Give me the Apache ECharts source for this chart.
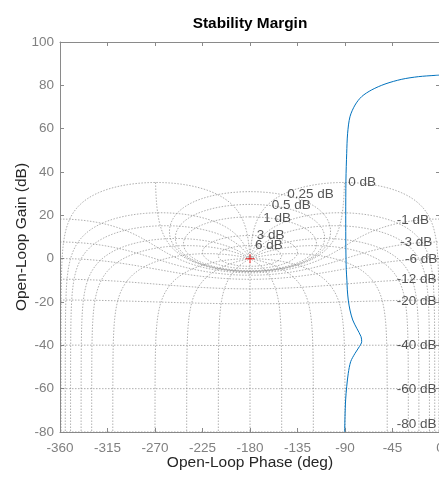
<!DOCTYPE html>
<html>
<head>
<meta charset="utf-8">
<script src="https://cdn.jsdelivr.net/npm/echarts@6/dist/echarts.min.js"></script>
<style>
  html, body { margin: 0; padding: 0; overflow: hidden; background: #fff; }
  #chart { width: 500px; height: 477px; }
</style>
</head>
<body>
<div id="chart"></div>
<script>
// Open-loop response in the Nichols plane (phase in deg, gain in dB)
const loopPhase = [-0.8, -4.6, -20.5, -36.2, -52.1, -64.7, -74.2, -80.5, -85.3, -87.5, -88.4, -89.1, -89.3, -89.2, -88.8, -88.2, -87.8, -86.9, -85.3, -82.7, -78.9, -74.8, -74.2, -76.4, -80.5, -84.6, -86.9, -88.4, -89.4, -90.0, -90.3];
const loopGain  = [84.7, 84.6, 84.0, 82.8, 80.6, 77.9, 74.8, 70.9, 65.5, 57.9, 48.6, 36.3, 20.0, 5.0, -5.0, -10.0, -14.4, -19.1, -23.7, -28.3, -32.1, -36.0, -38.3, -40.6, -43.7, -47.5, -52.9, -59.1, -65.2, -72.9, -80.0];

// Closed-loop gain contours (dB) and where their labels sit
const gainLevels     = [6, 3, 1, 0.5, 0.25, 0, -1, -3, -6, -12, -20, -40, -60, -80];
const gainLabelPhase = [-175.3, -173.7, -167.5, -159.5, -144.7, -86.9, -40.9, -37.8, -33.1, -40.9, -40.9, -40.9, -40.9, -40.9];
const gainLabelGain  = [6.0, 10.6, 18.6, 24.8, 29.7, 35.1, 17.9, 7.6, -0.1, -9.4, -19.8, -40.1, -60.1, -76.4];

// Closed-loop phase contours (deg)
const phaseLevels = [-1, -5, -10, -20, -30, -50, -90, -120, -150, -180, -210, -240, -270, -310, -330, -340, -350, -355, -359];

// Critical point -1 in the Nichols plane
const criticalPoint = [-180, 0];

// Axis ranges and tick steps
const phaseRange = [-360, 0], phaseStep = 45;
const gainRange = [-80, 100], gainStep = 20;

const D2R = Math.PI / 180;

// Open-loop L = T / (1 - T) for closed-loop T = m e^{j theta}
function openLoop(m, thetaDeg, wrap) {
  const t = thetaDeg * D2R;
  const re = 1 - m * Math.cos(t);
  const im = -m * Math.sin(t);
  const mag = m / Math.hypot(re, im);
  let ph;
  if (wrap) {
    const tr = m * Math.cos(t), ti = m * Math.sin(t);
    const den = re * re + im * im;
    const lr = (tr * re + ti * im) / den;
    const li = (ti * re - tr * im) / den;
    ph = Math.atan2(li, lr) / D2R;
    if (ph > 0) ph -= 360;
  } else {
    ph = thetaDeg - Math.atan2(im, re) / D2R;
  }
  return [ph, 20 * Math.log10(mag)];
}

function gainContour(db) {
  const m = Math.pow(10, db / 20);
  const pts = [];
  const lo = db === 0 ? -359 : -360, hi = db === 0 ? -1 : 0;
  for (let th = lo; th <= hi + 1e-9; th += 0.25) {
    pts.push(openLoop(m, th, m > 1));
  }
  return pts;
}

function phaseContour(theta) {
  const pts = [];
  let d = -110;
  while (d <= 80) {
    pts.push(openLoop(Math.pow(10, d / 20), theta, false));
    d += Math.abs(d) < 3 ? 0.004 : 0.1;
  }
  return pts;
}

const gridStyle = { color: 'rgba(128,128,128,0.8)', width: 0.8, type: [1.5, 1.5] };
const font = 'Liberation Sans, Arial, Helvetica, sans-serif';

const series = [];
gainLevels.forEach(g => series.push({
  type: 'line', data: gainContour(g), showSymbol: false, silent: true,
  lineStyle: gridStyle, z: 1, animation: false
}));
phaseLevels.forEach(p => series.push({
  type: 'line', data: phaseContour(p), showSymbol: false, silent: true,
  lineStyle: gridStyle, z: 1, animation: false
}));

// contour labels
series.push({
  type: 'scatter', symbolSize: 0, silent: true, animation: false, z: 3,
  data: gainLevels.map((g, i) => ({ value: [gainLabelPhase[i], gainLabelGain[i]], name: g + ' dB' })),
  label: {
    show: true, position: 'right', distance: 0, formatter: p => p.name,
    color: '#2b2b2b', fontSize: 13.5, fontFamily: font, verticalAlign: 'middle'
  }
});

// open-loop curve
series.push({
  type: 'line', data: loopPhase.map((p, i) => [p, loopGain[i]]),
  showSymbol: false, smooth: 0.3, silent: true, animation: false, z: 4,
  lineStyle: { color: '#0072BD', width: 1 }
});

// critical point marker
series.push({
  type: 'scatter', data: [criticalPoint], silent: true, animation: false, z: 5,
  symbol: 'path://M4,0h1v9h-1zM0,4h9v1h-9z', symbolSize: 9,
  itemStyle: { color: '#ff0000' }
});

const axisColor = '#8a8a8a';
const baseX = {
  type: 'value', min: phaseRange[0], max: phaseRange[1], interval: phaseStep,
  axisLine: { show: true, onZero: false, lineStyle: { color: axisColor, width: 1 } },
  axisTick: { show: true, inside: true, length: 4, lineStyle: { color: axisColor } },
  splitLine: { show: false }
};
const baseY = {
  type: 'value', min: gainRange[0], max: gainRange[1], interval: gainStep,
  axisLine: { show: true, onZero: false, lineStyle: { color: axisColor, width: 1 } },
  axisTick: { show: true, inside: true, length: 4, lineStyle: { color: axisColor } },
  splitLine: { show: false }
};

const chart = echarts.init(document.getElementById('chart'), null, { renderer: 'canvas' });
chart.setOption({
  animation: false,
  backgroundColor: '#fff',
  title: {
    text: 'Stability Margin', left: 'center', top: 16, padding: 0,
    textStyle: { fontFamily: font, fontSize: 15.4, fontWeight: 'bold', color: '#000' }
  },
  grid: { left: 60, top: 42, width: 380, height: 390, containLabel: false, outerBoundsMode: 'none' },
  xAxis: [
    Object.assign({}, baseX, {
      position: 'bottom',
      axisLabel: { color: '#808080', fontSize: 13.5, fontFamily: font, margin: 9 },
      name: 'Open-Loop Phase (deg)', nameLocation: 'middle', nameGap: 23, nameMoveOverlap: false,
      nameTextStyle: { color: '#262626', fontSize: 15.5, fontFamily: font, verticalAlign: 'top' }
    }),
    Object.assign({}, baseX, { position: 'top', axisLabel: { show: false } })
  ],
  yAxis: [
    Object.assign({}, baseY, {
      position: 'left',
      axisLabel: { color: '#808080', fontSize: 13.5, fontFamily: font, margin: 6 },
      name: 'Open-Loop Gain (dB)', nameLocation: 'middle', nameGap: 30, nameMoveOverlap: false,
      nameTextStyle: { color: '#262626', fontSize: 15.5, fontFamily: font }
    }),
    Object.assign({}, baseY, { position: 'right', axisLabel: { show: false } })
  ],
  series: series
});
</script>
</body>
</html>
